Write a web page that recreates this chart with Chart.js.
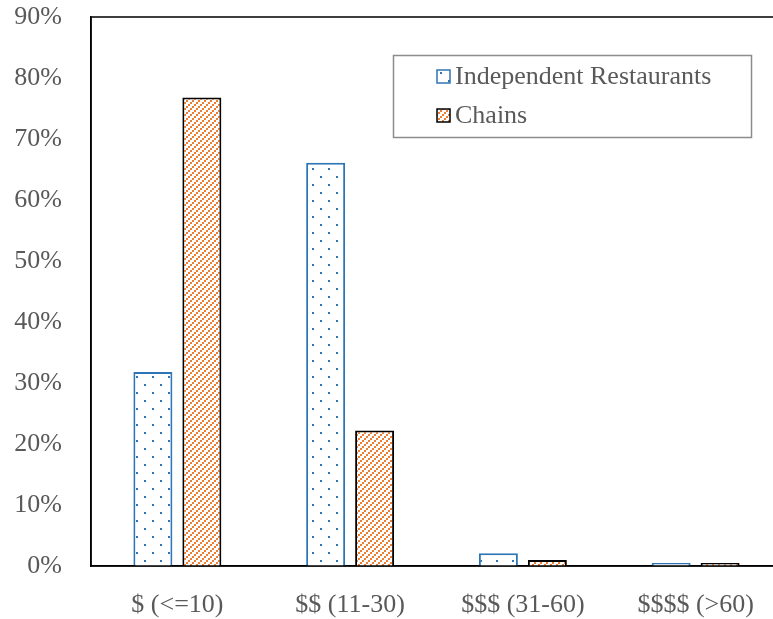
<!DOCTYPE html>
<html>
<head>
<meta charset="utf-8">
<script src="https://cdn.jsdelivr.net/npm/chart.js@4.4.0/dist/chart.umd.min.js"></script>
<style>
  html, body { margin: 0; padding: 0; background: #fff; overflow: hidden; }
  #wrap { width: 783px; height: 619px; position: relative; }
</style>
</head>
<body>
<div id="wrap"><canvas id="chart"></canvas></div>
<script>
// chart data
const categories = ['$ (<=10)', '$$ (11-30)', '$$$ (31-60)', '$$$$ (>60)'];
const independentValues = [31.8, 66.1, 2.1, 0.5];
const chainValues = [76.8, 22.2, 1.0, 0.5];
const seriesLabels = ['Independent Restaurants', 'Chains'];

const TEXT = '#595959';
const FONT = '"Liberation Serif", "Times New Roman", serif';
const FONT_SIZE = 26;

// small dot fill, like the office "5%" pattern
function dotPattern() {
    const c = document.createElement('canvas');
    c.width = 16; c.height = 16;
    const g = c.getContext('2d');
    g.fillStyle = '#fff';
    g.fillRect(0, 0, 16, 16);
    g.fillStyle = '#2E75B6';
    g.fillRect(0, 0, 2, 2);
    g.fillRect(8, 8, 2, 2);
    return g.createPattern(c, 'repeat');
}

// dotted upward diagonal fill
function diagPattern() {
    const c = document.createElement('canvas');
    c.width = 6; c.height = 6;
    const g = c.getContext('2d');
    g.fillStyle = '#fff';
    g.fillRect(0, 0, 6, 6);
    g.fillStyle = '#ED7D31';
    g.fillRect(0, 4, 2, 2);
    g.fillRect(2, 2, 2, 2);
    g.fillRect(4, 0, 2, 2);
    return g.createPattern(c, 'repeat');
}

const blueFill = dotPattern();
const orangeFill = diagPattern();

// frame round the plot area and the boxed legend
const framePlugin = {
    id: 'frame',
    afterDraw(chart) {
        const { ctx, chartArea: a } = chart;
        ctx.save();
        ctx.strokeStyle = '#000';
        ctx.lineWidth = 1.5;
        ctx.strokeRect(a.left, a.top, a.right - a.left, a.bottom - a.top);

        // legend
        ctx.strokeStyle = '#8C8C8C';
        ctx.lineWidth = 1.5;
        ctx.strokeRect(393.5, 55.5, 358, 82);
        ctx.font = FONT_SIZE + 'px ' + FONT;
        ctx.textBaseline = 'middle';
        const rows = [76, 115];
        chart.data.datasets.forEach((ds, i) => {
            const y = rows[i];
            ctx.fillStyle = ds.backgroundColor;
            ctx.fillRect(437, y - 6, 13, 13);
            ctx.strokeStyle = ds.borderColor;
            ctx.lineWidth = 1.5;
            ctx.strokeRect(437, y - 6, 13, 13);
            ctx.fillStyle = TEXT;
            ctx.fillText(ds.label, 455, y + 1);
        });
        ctx.restore();
    }
};

new Chart(document.getElementById('chart'), {
    type: 'bar',
    data: {
        labels: categories,
        datasets: [
            {
                label: seriesLabels[0],
                data: independentValues,
                backgroundColor: blueFill,
                borderColor: '#2E75B6',
                borderWidth: 2,
                borderSkipped: 'bottom'
            },
            {
                label: seriesLabels[1],
                data: chainValues,
                backgroundColor: orangeFill,
                borderColor: '#000',
                borderWidth: 2,
                borderSkipped: 'bottom'
            }
        ]
    },
    options: {
        responsive: true,
        maintainAspectRatio: false,
        animation: false,
        categoryPercentage: 0.567,
        barPercentage: 0.796,
        layout: { padding: { top: 17, right: 1, left: 0, bottom: 0 } },
        plugins: {
            legend: { display: false },
            tooltip: { enabled: false }
        },
        scales: {
            x: {
                grid: { display: false, drawTicks: false },
                border: { display: true, color: '#000', width: 1.5 },
                ticks: {
                    color: TEXT,
                    font: { family: FONT, size: FONT_SIZE },
                    padding: 24,
                    maxRotation: 0
                },
                afterFit(axis) {
                    axis.height = 53;
                    axis.paddingLeft = 0;
                    axis.paddingRight = 0;
                }
            },
            y: {
                min: 0,
                max: 90,
                grid: { display: false, drawTicks: false },
                border: { display: true, color: '#000', width: 1.5 },
                ticks: {
                    stepSize: 10,
                    color: TEXT,
                    font: { family: FONT, size: FONT_SIZE },
                    padding: 29,
                    callback: v => v + '%'
                },
                afterFit(axis) {
                    axis.width = 91;
                    axis.paddingTop = 0;
                    axis.paddingBottom = 0;
                }
            }
        }
    },
    plugins: [framePlugin]
});
</script>
</body>
</html>
